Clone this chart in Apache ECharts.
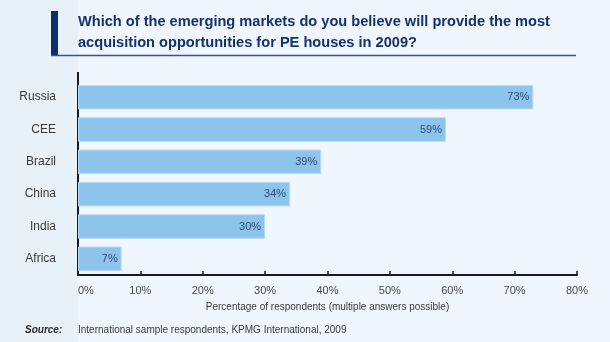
<!DOCTYPE html>
<html>
<head>
<meta charset="utf-8">
<script src="https://cdn.jsdelivr.net/npm/echarts@6/dist/echarts.min.js"></script>
<style>
  html, body { margin: 0; padding: 0; background: #EFF6FD; }
  #chart { width: 610px; height: 342px; }
</style>
</head>
<body>
<div id="chart"></div>
<script>
// Emerging markets expected to offer the most PE acquisition opportunities
const categories = ['Russia', 'CEE', 'Brazil', 'China', 'India', 'Africa'];
const shares = [73, 59, 39, 34, 30, 7];
const tickValues = [0, 10, 20, 30, 40, 50, 60, 70, 80];

const titleLines = [
  'Which of the emerging markets do you believe will provide the most',
  'acquisition opportunities for PE houses in 2009?'
];
const axisTitle = 'Percentage of respondents (multiple answers possible)';
const sourceLabel = 'Source:';
const sourceText = 'International sample respondents, KPMG International, 2009';

const FONT = '"Liberation Sans", Arial, sans-serif';
const chart = echarts.init(document.getElementById('chart'), null, { renderer: 'canvas' });

chart.setOption({
  backgroundColor: '#EFF6FD',
  animation: false,
  grid: { left: 78, right: 33, top: 81, bottom: 67, containLabel: false },
  xAxis: {
    type: 'value',
    min: tickValues[0],
    max: tickValues[tickValues.length - 1],
    interval: 10,
    axisLine: { show: true, lineStyle: { color: '#1a1a1a', width: 2 } },
    axisTick: { show: true, inside: true, length: 4, lineStyle: { color: '#1a1a1a', width: 1.5 } },
    splitLine: { show: false },
    axisLabel: {
      formatter: v => v + '%',
      color: '#4a4a4a',
      fontFamily: FONT,
      fontSize: 11,
      margin: 10,
      alignMinLabel: 'left'
    },
    name: axisTitle,
    nameLocation: 'middle',
    nameGap: 27,
    nameTextStyle: { color: '#3a3a3a', fontFamily: FONT, fontSize: 10 }
  },
  yAxis: {
    type: 'category',
    data: categories,
    inverse: true,
    axisLine: { show: true, lineStyle: { color: '#1a1a1a', width: 2 } },
    axisTick: { show: false },
    axisLabel: { color: '#3a3a3a', fontFamily: FONT, fontSize: 12, margin: 22 }
  },
  series: [{
    type: 'bar',
    data: shares,
    barCategoryGap: '24%',
    itemStyle: { color: '#8DC4EC', borderColor: '#B9DBF4', borderWidth: 1 },
    label: {
      show: true,
      position: 'insideRight',
      distance: 4,
      formatter: p => p.value + '%',
      color: '#2E4C7A',
      fontFamily: FONT,
      fontSize: 11
    }
  }],
  graphic: [
    // darker strip behind the category labels
    { type: 'rect', z: -10, shape: { x: 0, y: 0, width: 78, height: 342 }, style: { fill: '#E8F0F8' } },
    // title marker bar and underline
    { type: 'rect', shape: { x: 51, y: 11, width: 7, height: 45 }, style: { fill: '#0E2D6B' } },
    { type: 'line', shape: { x1: 51, y1: 55.5, x2: 576, y2: 55.5 }, style: { stroke: '#2F5597', lineWidth: 1.5 } },
    { type: 'text', left: 78, top: 11, style: {
        text: titleLines.join('\n'), fill: '#14326E', font: 'bold 14.6px ' + FONT, lineHeight: 21 } },
    // value axis line continues a little above the bars
    { type: 'line', shape: { x1: 78, y1: 72, x2: 78, y2: 82 }, style: { stroke: '#1a1a1a', lineWidth: 2 } },
    // source note
    { type: 'text', left: 25, top: 325, style: {
        text: sourceLabel, fill: '#2a2a2a', font: 'italic bold 10px ' + FONT } },
    { type: 'text', left: 78, top: 325, style: {
        text: sourceText, fill: '#3a3a3a', font: '10px ' + FONT } }
  ]
});
</script>
</body>
</html>
